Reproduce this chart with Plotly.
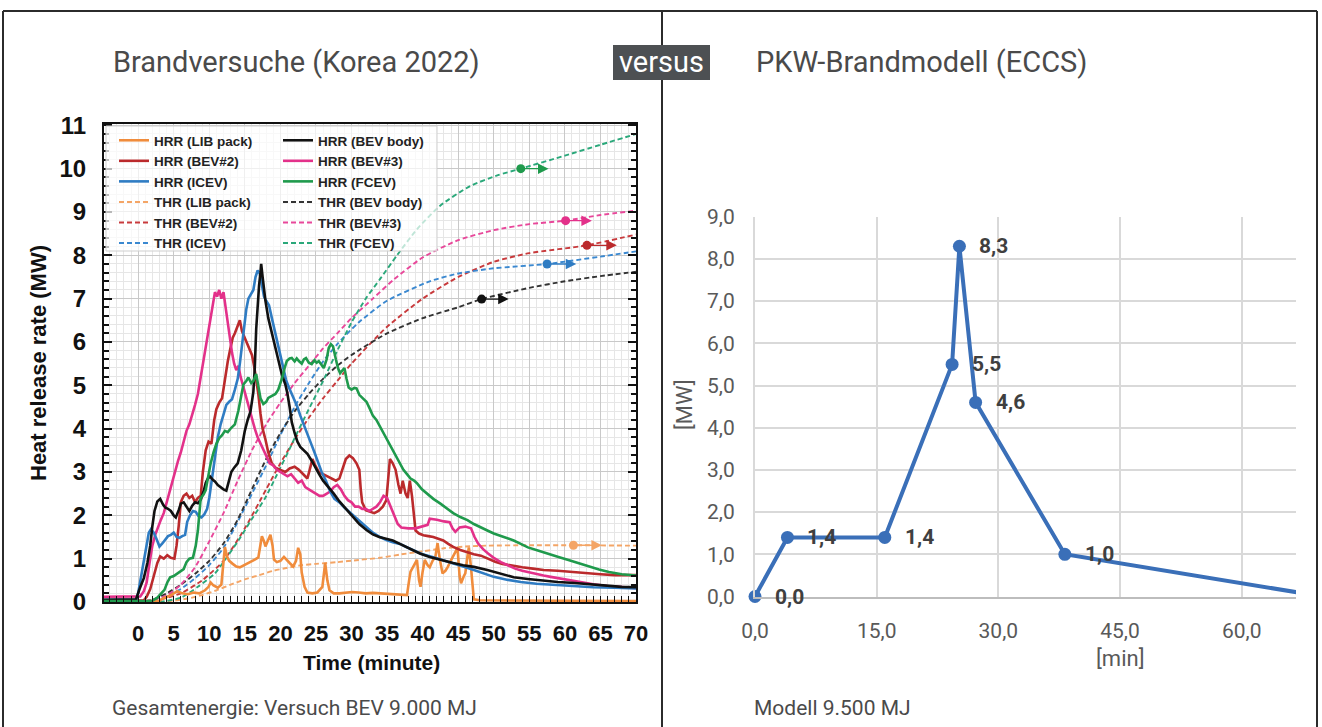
import plotly.graph_objects as go

W, H = 1322, 727


def px(x):
    return x / W


def py(y):
    return 1 - y / H


# ---------------- Brandversuche (Korea 2022): HRR curves [MW] over time [min] ----------------
lib_t = [-4.8, 3.0, 3.7, 4.5, 5.5, 6.2, 7.0, 7.8, 8.6, 9.4, 9.9, 10.2, 10.6, 11.2, 11.7, 12.0, 12.2, 12.5, 12.8,
         13.3, 13.8, 14.3, 14.8, 15.3, 15.8, 16.4, 16.9, 17.2, 17.4, 17.7, 17.9, 18.2, 18.6, 18.9, 19.1, 19.5, 20.0,
         20.5, 20.9, 21.3, 21.8, 22.2, 22.5, 22.8, 23.0, 23.4, 23.8, 24.5, 25.2, 25.9, 26.3, 26.6, 26.9, 27.5, 28.3,
         29.2, 30.1, 31.0, 32.0, 33.0, 34.0, 35.0, 36.0, 37.0, 37.8, 38.1, 38.3, 38.8, 39.2, 39.5, 39.7, 40.0, 40.3,
         40.7, 41.0, 41.4, 41.8, 42.1, 42.4, 42.8, 43.2, 43.5, 43.9, 44.2, 44.6, 44.9, 45.2, 45.4, 45.8, 46.0, 46.3,
         46.5, 46.8, 47.0, 47.2, 48.0, 55.0, 70.0]
lib_hrr = [0.02, 0.03, 0.10, 0.15, 0.25, 0.20, 0.18, 0.22, 0.20, 0.27, 0.35, 0.45, 0.38, 0.33, 0.40, 0.90, 1.27, 1.05,
           0.95, 0.88, 0.82, 0.80, 0.84, 0.88, 0.92, 0.98, 1.03, 1.35, 1.52, 1.40, 1.28, 1.40, 1.55, 1.30, 0.98, 0.92,
           0.95, 1.04, 0.96, 0.90, 0.82, 0.95, 1.25, 1.10, 0.68, 0.35, 0.22, 0.20, 0.22, 0.35, 0.90, 0.50, 0.27, 0.20,
           0.20, 0.22, 0.23, 0.22, 0.20, 0.21, 0.20, 0.19, 0.18, 0.17, 0.16, 0.50, 0.70, 0.85, 0.97, 0.50, 0.35, 0.70,
           0.97, 0.85, 0.80, 0.95, 1.05, 1.36, 1.00, 0.66, 0.72, 0.80, 0.95, 1.03, 1.15, 1.26, 0.60, 0.43, 0.60, 0.66,
           1.05, 1.26, 0.80, 0.40, 0.06, 0.04, 0.03, 0.02]

bev2_t = [-4.8, 0.8, 1.2, 1.7, 2.2, 2.7, 3.1, 3.6, 4.1, 4.6, 5.1, 5.4, 5.7, 6.0, 6.4, 6.8, 7.2, 7.6, 8.0, 8.4, 8.8, 9.1,
          9.5, 9.9, 10.3, 10.7, 11.0, 11.4, 11.8, 12.2, 12.6, 12.9, 13.3, 13.6, 14.0, 14.3, 14.6, 15.0, 15.4, 15.7,
          16.0, 16.3, 16.6, 16.9, 17.2, 17.5, 17.9, 18.3, 18.8, 19.3, 20.0, 20.7, 21.3, 22.0, 22.6, 23.2, 23.8, 24.2,
          24.5, 24.9, 25.4, 26.0, 26.6, 27.2, 27.8, 28.3, 28.8, 29.2, 29.7, 30.2, 30.7, 31.1, 31.3, 31.5, 32.0, 32.6,
          33.2, 33.8, 34.4, 34.9, 35.2, 35.4, 35.8, 36.2, 36.6, 36.9, 37.2, 37.6, 37.9, 38.2, 38.5, 38.8, 39.0, 39.5,
          40.1, 40.8, 41.5, 42.2, 42.9, 43.6, 44.3, 45.3, 46.3, 47.2, 48.2, 49.2, 50.2, 51.2, 52.5, 54.0, 55.5, 57.0,
          59.0, 61.0, 63.0, 65.0, 67.0, 70.0]
bev2_hrr = [0.03, 0.04, 0.12, 0.30, 0.60, 0.90, 1.05, 1.00, 1.08, 1.02, 1.00, 1.30, 1.75, 2.30, 2.45, 2.50, 2.40,
            2.45, 2.30, 2.40, 2.45, 3.00, 3.50, 3.70, 3.65, 4.20, 4.45, 4.60, 4.70, 5.15, 5.55, 5.80, 6.10, 6.20, 6.40,
            6.50, 6.25, 6.10, 5.95, 5.85, 5.70, 5.45, 5.15, 4.80, 4.35, 4.00, 3.75, 3.45, 3.20, 3.10, 3.05, 3.00, 3.08,
            3.12, 3.05, 2.95, 2.85, 3.10, 3.30, 3.15, 3.00, 2.95, 2.90, 2.85, 2.80, 2.85, 3.10, 3.30, 3.38, 3.32, 3.20,
            3.05, 2.60, 2.30, 2.12, 2.08, 2.05, 2.10, 2.20, 2.35, 2.90, 3.30, 3.20, 3.05, 2.70, 2.50, 2.80, 2.50, 2.40,
            2.80, 2.45, 2.00, 1.65, 1.58, 1.54, 1.52, 1.50, 1.46, 1.42, 1.34, 1.27, 1.20, 1.15, 1.10, 1.07, 1.00, 0.93,
            0.88, 0.84, 0.80, 0.77, 0.74, 0.72, 0.69, 0.66, 0.64, 0.62, 0.62]

icev_t = [-4.8, -0.3, 0.0, 0.4, 0.85, 1.2, 1.5, 1.8, 2.2, 2.6, 3.0, 3.4, 3.8, 4.2, 4.6, 5.0, 5.4, 5.8, 6.2, 6.6, 6.9,
          7.3, 7.7, 8.1, 8.5, 8.9, 9.3, 9.7, 10.0, 10.3, 10.6, 10.9, 11.2, 11.6, 12.0, 12.4, 12.8, 13.2, 13.6, 14.0,
          14.3, 14.6, 14.9, 15.2, 15.5, 15.9, 16.2, 16.5, 16.8, 17.1, 17.4, 17.7, 18.0, 18.4, 18.8, 19.2, 19.6, 20.0,
          20.4, 20.8, 21.2, 21.6, 22.0, 22.4, 22.8, 23.2, 23.6, 24.0, 24.4, 24.8, 25.3, 25.8, 26.4, 27.0, 27.6, 28.3,
          29.0, 29.7, 30.4, 31.1, 32.0, 33.0, 34.0, 34.9, 35.8, 36.8, 37.7, 38.6, 40.0, 41.5, 43.0, 44.3, 45.7, 47.2,
          48.6, 50.0, 52.0, 53.8, 56.0, 58.5, 61.0, 64.0, 67.0, 70.0]
icev_hrr = [0.05, 0.05, 0.20, 0.60, 1.00, 1.35, 1.60, 1.68, 1.60, 1.45, 1.28, 1.35, 1.45, 1.52, 1.55, 1.60, 1.50, 1.48,
            1.52, 1.55, 1.85, 2.00, 2.10, 2.08, 1.98, 1.95, 2.02, 2.15, 2.40, 2.75, 3.10, 3.45, 3.80, 4.10, 4.35, 4.55,
            4.62, 4.68, 4.90, 5.15, 5.50, 5.90, 6.40, 6.75, 7.00, 7.10, 7.20, 7.50, 7.65, 7.58, 7.30, 7.05, 6.95, 6.85,
            6.55, 6.25, 5.95, 5.65, 5.35, 5.12, 4.95, 4.80, 4.68, 4.50, 4.30, 4.12, 3.95, 3.80, 3.62, 3.45, 3.22, 3.00,
            2.80, 2.55, 2.38, 2.30, 2.18, 2.08, 1.97, 1.88, 1.74, 1.60, 1.50, 1.43, 1.38, 1.34, 1.27, 1.20, 1.10, 1.03,
            0.96, 0.90, 0.82, 0.74, 0.66, 0.58, 0.51, 0.46, 0.42, 0.39, 0.36, 0.34, 0.33, 0.31]

body_t = [-4.8, -0.3, 0.2, 0.8, 1.3, 1.7, 2.0, 2.3, 2.7, 3.1, 3.5, 3.8, 4.2, 4.6, 5.0, 5.3, 5.7, 6.0, 6.4, 6.8, 7.2,
          7.6, 8.0, 8.4, 8.8, 9.2, 9.5, 9.8, 10.1, 10.5, 10.8, 11.2, 11.6, 12.0, 12.4, 12.8, 13.1, 13.5, 14.0, 14.5,
          15.0, 15.4, 15.8, 16.2, 16.4, 16.6, 16.8, 17.0, 17.2, 17.3, 17.5, 17.7, 17.9, 18.3, 18.8, 19.3, 19.7, 20.2,
          20.7, 21.0, 21.3, 21.6, 22.0, 22.4, 22.8, 23.3, 23.8, 24.4, 24.9, 25.4, 26.0, 26.8, 27.5, 28.3, 29.2, 30.1,
          31.1, 32.1, 33.0, 33.9, 34.9, 35.8, 36.8, 37.8, 38.7, 39.6, 41.0, 42.5, 44.3, 45.7, 47.2, 49.1, 51.0, 52.8,
          54.8, 56.7, 59.0, 61.4, 64.0, 66.2, 68.0, 70.0]
body_hrr = [0.05, 0.06, 0.30, 0.55, 0.90, 1.30, 1.75, 2.10, 2.32, 2.38, 2.25, 2.18, 2.15, 2.10, 2.00, 1.95, 2.12, 2.27,
            2.30, 2.20, 2.10, 2.22, 2.30, 2.28, 2.36, 2.55, 2.75, 2.85, 2.90, 2.82, 2.78, 2.70, 2.64, 2.60, 2.57, 2.80,
            3.00, 3.10, 3.20, 3.50, 3.95, 4.20, 4.40, 4.85, 5.40, 6.30, 6.90, 7.30, 7.60, 7.80, 7.50, 7.20, 6.95, 6.55,
            6.20, 5.85, 5.55, 5.25, 5.02, 4.80, 4.50, 4.15, 3.90, 3.70, 3.58, 3.50, 3.42, 3.26, 3.10, 2.96, 2.80, 2.65,
            2.50, 2.32, 2.15, 1.98, 1.80, 1.66, 1.56, 1.50, 1.46, 1.42, 1.34, 1.26, 1.18, 1.12, 1.04, 0.97, 0.90, 0.85,
            0.81, 0.74, 0.65, 0.57, 0.53, 0.50, 0.46, 0.44, 0.40, 0.37, 0.35, 0.34]

bev3_t = [-4.8, -1.0, 0.3, 0.8, 1.2, 1.6, 2.0, 2.4, 2.8, 3.2, 3.6, 4.0, 4.4, 4.8, 5.2, 5.6, 6.0, 6.4, 6.8, 7.2, 7.6,
          8.0, 8.4, 8.8, 9.2, 9.6, 10.0, 10.4, 10.8, 11.1, 11.4, 11.7, 12.0, 12.3, 12.6, 12.9, 13.2, 13.5, 13.8, 14.1,
          14.4, 14.8, 15.2, 15.6, 16.0, 16.4, 16.8, 17.2, 17.6, 18.0, 18.5, 19.0, 19.5, 20.0, 20.5, 21.0, 21.5, 22.0,
          22.5, 23.0, 23.5, 24.0, 24.5, 25.0, 25.5, 26.0, 26.5, 27.0, 27.5, 28.0, 28.5, 29.0, 29.5, 30.0, 30.5, 31.0,
          31.5, 32.0, 32.5, 33.0, 33.5, 34.0, 34.5, 35.0, 35.5, 36.0, 36.5, 37.0, 38.0, 39.0, 40.0, 40.7, 41.0, 42.0,
          43.0, 43.8, 44.2, 44.6, 45.2, 46.0, 46.8, 47.3, 47.8, 48.5, 49.2, 50.0, 51.0, 52.0, 53.0, 54.0, 55.0, 56.0,
          57.0, 58.0, 59.0, 60.0, 62.0, 64.0, 66.0, 68.0, 70.0]
bev3_hrr = [0.12, 0.12, 0.13, 0.25, 0.45, 0.90, 1.30, 1.55, 1.75, 1.90, 2.05, 2.30, 2.55, 2.80, 3.05, 3.25, 3.45, 3.70,
            3.95, 4.10, 4.30, 4.55, 4.80, 5.20, 5.60, 6.00, 6.45, 6.85, 7.15, 7.05, 7.20, 7.00, 7.15, 6.80, 6.40, 6.10,
            5.75, 5.50, 5.35, 5.45, 5.20, 4.95, 4.70, 4.45, 4.20, 4.00, 3.80, 3.65, 3.50, 3.35, 3.20, 3.15, 3.05, 3.00,
            2.95, 2.90, 2.95, 2.85, 2.75, 2.80, 2.65, 2.60, 2.55, 2.50, 2.45, 2.45, 2.50, 2.55, 2.65, 2.70, 2.60, 2.45,
            2.35, 2.30, 2.20, 2.20, 2.15, 2.15, 2.10, 2.15, 2.20, 2.30, 2.45, 2.40, 2.20, 2.00, 1.80, 1.72, 1.70, 1.70,
            1.75, 1.78, 1.92, 1.90, 1.86, 1.84, 1.70, 1.62, 1.72, 1.74, 1.70, 1.50, 1.35, 1.22, 1.12, 1.02, 0.92, 0.84,
            0.77, 0.72, 0.68, 0.64, 0.61, 0.58, 0.55, 0.52, 0.47, 0.41, 0.37, 0.34, 0.32]

fcev_t = [-4.8, 2.0, 2.7, 3.2, 3.7, 4.1, 4.5, 5.0, 5.5, 6.0, 6.4, 6.8, 7.2, 7.7, 8.1, 8.4, 8.6, 8.8, 9.2, 9.5, 9.8,
          10.2, 10.6, 11.0, 11.4, 11.8, 12.2, 12.6, 13.1, 13.6, 14.1, 14.5, 14.8, 15.2, 15.5, 15.9, 16.2, 16.6, 16.9,
          17.2, 17.6, 18.0, 18.3, 18.8, 19.3, 19.7, 20.0, 20.3, 20.6, 20.9, 21.3, 21.6, 22.0, 22.3, 22.6, 23.0, 23.3,
          23.6, 24.0, 24.4, 24.8, 25.1, 25.4, 25.8, 26.1, 26.5, 26.8, 27.1, 27.4, 27.8, 28.1, 28.4, 28.7, 29.0, 29.3,
          29.6, 30.0, 30.4, 30.7, 31.1, 31.6, 32.1, 32.6, 33.0, 33.5, 34.0, 34.5, 34.9, 35.4, 35.9, 36.4, 36.8, 37.3,
          37.8, 38.3, 38.8, 39.2, 39.9, 40.6, 41.5, 42.5, 43.4, 44.3, 45.3, 46.3, 47.2, 48.2, 49.1, 50.0, 51.4, 52.8,
          53.8, 54.8, 56.2, 57.7, 59.1, 60.5, 62.0, 63.4, 64.8, 66.2, 68.0, 70.0]
fcev_hrr = [0.02, 0.03, 0.10, 0.20, 0.28, 0.45, 0.57, 0.60, 0.66, 0.70, 0.76, 0.92, 1.00, 1.02, 1.30, 1.65, 2.10, 2.40,
            2.48, 2.58, 2.85, 3.20, 3.45, 3.65, 3.78, 3.85, 3.95, 3.92, 4.02, 4.10, 4.42, 4.80, 5.02, 5.10, 5.18, 5.05,
            5.10, 5.26, 4.95, 4.70, 4.57, 4.62, 4.71, 4.75, 4.80, 4.90, 5.03, 5.20, 5.40, 5.56, 5.62, 5.63, 5.55, 5.62,
            5.56, 5.50, 5.60, 5.63, 5.52, 5.49, 5.58, 5.52, 5.56, 5.45, 5.40, 5.60, 5.86, 5.95, 5.90, 5.60, 5.40, 5.28,
            5.35, 5.40, 5.15, 4.95, 4.90, 4.94, 4.93, 4.78, 4.70, 4.62, 4.45, 4.30, 4.20, 4.05, 3.90, 3.75, 3.60, 3.45,
            3.30, 3.18, 3.05, 2.95, 2.85, 2.80, 2.74, 2.60, 2.50, 2.38, 2.27, 2.15, 2.05, 1.96, 1.89, 1.80, 1.73, 1.65,
            1.58, 1.50, 1.42, 1.34, 1.26, 1.19, 1.12, 1.04, 0.97, 0.89, 0.81, 0.75, 0.69, 0.64, 0.61]

# THR curves (cumulative heat, drawn against the right-hand scale)
lib_thr_t = [3, 5, 7, 9, 11, 13, 15, 17, 19, 21, 23, 25, 28, 31, 34, 37, 40, 43, 46, 49, 55, 61.2, 70]
lib_thr = [0.0, 0.03, 0.08, 0.16, 0.27, 0.40, 0.52, 0.62, 0.72, 0.79, 0.85, 0.88, 0.92, 0.97, 1.02, 1.10, 1.17, 1.24,
           1.28, 1.30, 1.31, 1.31, 1.30]
bev2_thr_t = [1, 3, 6, 9, 12, 15, 18, 20, 22, 24, 26, 28, 30, 35, 40, 45, 50, 55, 63.1, 70]
bev2_thr = [0.0, 0.05, 0.20, 0.50, 0.95, 1.70, 2.60, 3.20, 3.75, 4.25, 4.70, 5.10, 5.50, 6.35, 7.00, 7.50, 7.85, 8.05,
            8.23, 8.48]
icev_thr_t = [0, 2, 4, 6, 8, 10, 12, 14, 16, 18, 20, 22, 24, 26, 28, 31, 35, 41, 45, 50, 57.5, 65, 70]
icev_thr = [0.0, 0.05, 0.15, 0.30, 0.55, 0.85, 1.25, 1.85, 2.50, 3.15, 3.85, 4.50, 5.05, 5.55, 5.95, 6.45, 6.95, 7.40,
            7.58, 7.70, 7.80, 7.97, 8.09]
body_thr_t = [0, 2, 4, 6, 8, 10, 12, 14, 16, 18, 20, 22, 24, 26, 28, 30, 35, 40, 45, 48.3, 55, 60, 65, 70]
body_thr = [0.0, 0.05, 0.20, 0.40, 0.65, 0.95, 1.35, 1.90, 2.60, 3.30, 3.90, 4.40, 4.80, 5.15, 5.45, 5.70, 6.20, 6.55,
            6.80, 6.99, 7.25, 7.40, 7.52, 7.62]
bev3_thr_t = [0, 2, 4, 6, 8, 10, 12, 14, 16, 18, 20, 22, 24, 26, 28, 30, 33, 36, 40, 45, 50, 55, 60.1, 65, 70]
bev3_thr = [0.0, 0.05, 0.15, 0.40, 0.80, 1.40, 2.05, 2.80, 3.50, 4.10, 4.60, 5.05, 5.45, 5.85, 6.20, 6.55, 7.00, 7.45,
            7.95, 8.35, 8.58, 8.72, 8.80, 8.93, 9.03]
fcev_thr_t = [3, 6, 8.4, 10.8, 12.2, 14.1, 15.9, 17.9, 19.7, 21.2, 22.2, 24, 26, 28, 30, 32, 34, 36.4, 39.2, 42.5,
              46.7, 50.6, 53.8, 60, 65, 70]
fcev_thr = [0.0, 0.10, 0.35, 0.66, 0.97, 1.42, 1.89, 2.41, 3.00, 3.50, 3.85, 4.45, 5.10, 5.80, 6.45, 7.00, 7.45, 8.00,
            8.60, 9.15, 9.60, 9.85, 10.00, 10.30, 10.55, 10.80]

# arrow markers on the THR curves: start time, end time, level
arrow_t0 = {"LIB pack": 61.2, "BEV#2": 63.1, "ICEV": 57.5, "BEV body": 48.3, "BEV#3": 60.1, "FCEV": 53.8}
arrow_t1 = {"LIB pack": 65.2, "BEV#2": 67.3, "ICEV": 61.6, "BEV body": 52.1, "BEV#3": 63.8, "FCEV": 57.7}
arrow_v = {"LIB pack": 1.31, "BEV#2": 8.23, "ICEV": 7.80, "BEV body": 6.99, "BEV#3": 8.80, "FCEV": 10.00}

left_xticks = [0, 5, 10, 15, 20, 25, 30, 35, 40, 45, 50, 55, 60, 65, 70]
left_yticks = list(range(0, 12))

# ---------------- PKW-Brandmodell (ECCS) ----------------
model_t = [0.0, 4.0, 16.0, 24.3, 25.2, 27.2, 38.2, 70.0]
model_mw = [0.0, 1.4, 1.4, 5.5, 8.3, 4.6, 1.0, 0.0]
model_labelled = 7  # points carrying a marker and a value label
model_xticks = [0, 15, 30, 45, 60]
model_yticks = [0, 1, 2, 3, 4, 5, 6, 7, 8, 9]

colors = {
    "LIB pack": "#f08c3c",
    "BEV#2": "#bb2a2c",
    "ICEV": "#2f7cc3",
    "BEV body": "#111111",
    "BEV#3": "#e3318a",
    "FCEV": "#1f9a4c",
}
thr_colors = {
    "LIB pack": "#f4a566",
    "BEV#2": "#c83a3c",
    "ICEV": "#3a88d0",
    "BEV body": "#333333",
    "BEV#3": "#e8479a",
    "FCEV": "#2aa87a",
}

hrr = {
    "LIB pack": (lib_t, lib_hrr),
    "BEV#2": (bev2_t, bev2_hrr),
    "ICEV": (icev_t, icev_hrr),
    "BEV body": (body_t, body_hrr),
    "BEV#3": (bev3_t, bev3_hrr),
    "FCEV": (fcev_t, fcev_hrr),
}
thr = {
    "LIB pack": (lib_thr_t, lib_thr),
    "BEV#2": (bev2_thr_t, bev2_thr),
    "ICEV": (icev_thr_t, icev_thr),
    "BEV body": (body_thr_t, body_thr),
    "BEV#3": (bev3_thr_t, bev3_thr),
    "FCEV": (fcev_thr_t, fcev_thr),
}
legend_of = {"LIB pack": "legend", "BEV#2": "legend", "ICEV": "legend",
             "BEV body": "legend2", "BEV#3": "legend2", "FCEV": "legend2"}
rank_of = {"LIB pack": 1, "BEV#2": 2, "ICEV": 3, "BEV body": 1, "BEV#3": 2, "FCEV": 3}

fig = go.Figure()

# dashed THR curves underneath
for name, (t, v) in thr.items():
    fig.add_trace(go.Scatter(
        x=t, y=v, mode="lines", name=f"THR ({name})",
        line=dict(color=thr_colors[name], width=1.9, dash="5px,3px", shape="spline", smoothing=0.6),
        legend=legend_of[name], legendrank=rank_of[name] + 3, xaxis="x", yaxis="y",
    ))
    fig.add_trace(go.Scatter(
        x=[arrow_t0[name]], y=[arrow_v[name]], mode="markers", showlegend=False,
        marker=dict(color=colors[name] if name != "LIB pack" else thr_colors[name], size=9,
                    opacity=1, line=dict(width=0)),
        xaxis="x", yaxis="y",
    ))

# solid HRR curves
for name in ["LIB pack", "BEV#2", "BEV#3", "ICEV", "BEV body", "FCEV"]:
    t, v = hrr[name]
    fig.add_trace(go.Scatter(
        x=t, y=v, mode="lines", name=f"HRR ({name})",
        line=dict(color=colors[name], width=2.6),
        legend=legend_of[name], legendrank=rank_of[name], xaxis="x", yaxis="y",
    ))

# ECCS model
sizes = [13] * model_labelled + [0] * (len(model_t) - model_labelled)
fig.add_trace(go.Scatter(
    x=model_t, y=model_mw, mode="lines+markers", showlegend=False,
    line=dict(color="#3a6fb8", width=4),
    marker=dict(color="#3a6fb8", size=sizes, opacity=1, line=dict(width=0)),
    cliponaxis=False, xaxis="x2", yaxis="y2",
))

SANS = "Roboto, Liberation Sans, sans-serif"

annotations = []
shapes = []

# arrows pointing to the right-hand (THR) scale
for name in thr:
    c = colors[name] if name != "LIB pack" else thr_colors[name]
    annotations.append(dict(
        x=arrow_t1[name], y=arrow_v[name], ax=arrow_t0[name], ay=arrow_v[name],
        xref="x", yref="y", axref="x", ayref="y", text="", showarrow=True,
        arrowhead=2, arrowsize=1.5, arrowwidth=1.4, arrowcolor=c, standoff=0, startstandoff=0,
    ))

# value labels on the model curve
for t, v in zip(model_t[:model_labelled], model_mw[:model_labelled]):
    annotations.append(dict(
        x=t, y=v, xref="x2", yref="y2", text=f"{v:.1f}".replace(".", ","), showarrow=False,
        xanchor="left", yanchor="middle", xshift=18,
        font=dict(family=SANS, size=21, color="#3f3f3f", weight="bold"),
    ))

title_font = dict(family=SANS, size=29, color="#4a4a4a")
text_font = dict(family=SANS, size=21, color="#4a4a4a")
annotations += [
    dict(x=px(111), y=py(62), xref="paper", yref="paper", xanchor="left", yanchor="middle",
         text="Brandversuche (Korea 2022)", showarrow=False, font=title_font),
    dict(x=px(754), y=py(62), xref="paper", yref="paper", xanchor="left", yanchor="middle",
         text="PKW-Brandmodell (ECCS)", showarrow=False, font=title_font),
    dict(x=px(661.5), y=py(62), xref="paper", yref="paper", xanchor="center", yanchor="middle",
         text="versus", showarrow=False,
         font=dict(family=SANS, size=29, color="#ffffff")),
    dict(x=px(110), y=py(708), xref="paper", yref="paper", xanchor="left", yanchor="middle",
         text="Gesamtenergie: Versuch BEV 9.000 MJ", showarrow=False, font=text_font),
    dict(x=px(752), y=py(708), xref="paper", yref="paper", xanchor="left", yanchor="middle",
         text="Modell 9.500 MJ", showarrow=False, font=text_font),
    dict(x=px(38), y=py(363), xref="paper", yref="paper", xanchor="center", yanchor="middle",
         text="Heat release rate (MW)", textangle=-90, showarrow=False,
         font=dict(family="Liberation Sans, Arial, sans-serif", size=22, color="#111111", weight="bold")),
    dict(x=px(372), y=py(662), xref="paper", yref="paper", xanchor="center", yanchor="middle",
         text="Time (minute)", showarrow=False,
         font=dict(family="Liberation Sans, Arial, sans-serif", size=21, color="#111111", weight="bold")),
    dict(x=45, y=py(658), xref="x2", yref="paper", xanchor="center", yanchor="middle",
         text="[min]", showarrow=False,
         font=dict(family=SANS, size=22, color="#595959")),
    dict(x=px(684), y=py(404), xref="paper", yref="paper", xanchor="center", yanchor="middle",
         text="[MW]", textangle=-90, showarrow=False,
         font=dict(family=SANS, size=22, color="#595959")),
]

# panel frame, divider and "versus" badge
frame = dict(color="#2b2b2b", width=2)
shapes += [
    dict(type="line", xref="paper", yref="paper", x0=px(3), x1=px(1317), y0=py(11), y1=py(11), line=frame),
    dict(type="line", xref="paper", yref="paper", x0=px(3), x1=px(3), y0=py(11), y1=py(727), line=frame),
    dict(type="line", xref="paper", yref="paper", x0=px(1317), x1=px(1317), y0=py(11), y1=py(727), line=frame),
    dict(type="line", xref="paper", yref="paper", x0=px(662), x1=px(662), y0=py(11), y1=py(45), line=frame),
    dict(type="line", xref="paper", yref="paper", x0=px(662), x1=px(662), y0=py(80), y1=py(727), line=frame),
    dict(type="rect", xref="paper", yref="paper", x0=px(613), x1=px(710), y0=py(80), y1=py(45),
         fillcolor="#4d5053", line=dict(width=0)),
    # translucent legend box
    dict(type="rect", xref="paper", yref="paper", x0=px(106), x1=px(437), y0=py(251), y1=py(126),
         fillcolor="rgba(255,255,255,0.7)", line=dict(color="#cfcfcf", width=1), layer="above"),
]

legend_font = dict(family="Liberation Sans, Arial, sans-serif", size=13.5, color="#222222", weight="bold")
fig.update_layout(
    width=W, height=H,
    autosize=False,
    margin=dict(l=0, r=0, t=0, b=0, pad=0, autoexpand=False),
    paper_bgcolor="white", plot_bgcolor="white",
    separators=",.",
    showlegend=True,
    legend=dict(x=px(114), y=py(125), xanchor="left", yanchor="top", bgcolor="rgba(0,0,0,0)",
                font=legend_font, tracegroupgap=0, itemwidth=30, traceorder="normal"),
    legend2=dict(x=px(278), y=py(125), xanchor="left", yanchor="top", bgcolor="rgba(0,0,0,0)",
                 font=legend_font, tracegroupgap=0, itemwidth=30, traceorder="normal"),
    xaxis=dict(
        domain=[px(104), px(636)], range=[-4.8, 70], anchor="y",
        tickvals=left_xticks, ticks="inside", ticklen=6, tickwidth=1, tickcolor="#111",
        showline=True, linecolor="#111", linewidth=2, mirror=True,
        showgrid=True, gridcolor="#c9c9c9", gridwidth=1, zeroline=False,
        minor=dict(dtick=1, tick0=0, ticks="inside", ticklen=6, tickcolor="#111", showgrid=True,
                   gridcolor="#e6e6e6", gridwidth=1),
        tickfont=dict(family="Liberation Sans, Arial, sans-serif", size=22, color="#111", weight="bold"),
        ticklabelstandoff=11,
    ),
    yaxis=dict(
        domain=[py(602), py(124)], range=[0, 11.03], anchor="x",
        tickvals=left_yticks, ticks="inside", ticklen=8, tickwidth=1.5, tickcolor="#111",
        showline=True, linecolor="#111", linewidth=2, mirror="ticks",
        showgrid=True, gridcolor="#c9c9c9", gridwidth=1, zeroline=False,
        minor=dict(dtick=0.2, tick0=0, ticks="inside", ticklen=5, tickcolor="#111", showgrid=True,
                   gridcolor="#e6e6e6", gridwidth=1),
        tickfont=dict(family="Liberation Sans, Arial, sans-serif", size=24, color="#111", weight="bold"),
        ticklabelstandoff=11,
    ),
    xaxis2=dict(
        domain=[px(755), px(1296)], range=[0, 66.7], anchor="y2",
        tickvals=model_xticks, tickformat=".1f", ticks="",
        showline=True, linecolor="#bdbdbd", linewidth=2, zeroline=False,
        showgrid=True, gridcolor="#d9d9d9", gridwidth=2,
        tickfont=dict(family=SANS, size=21, color="#595959"),
        ticklabelstandoff=14,
    ),
    yaxis2=dict(
        domain=[py(596.5), py(216.7)], range=[0, 9], anchor="x2",
        tickvals=model_yticks, tickformat=".1f", ticks="",
        showline=True, linecolor="#d9d9d9", linewidth=2, zeroline=False,
        showgrid=True, gridcolor="#d9d9d9", gridwidth=2,
        tickfont=dict(family=SANS, size=21, color="#595959"),
        ticklabelstandoff=14,
    ),
    annotations=annotations,
    shapes=shapes,
)

fig.write_html("out.html")
